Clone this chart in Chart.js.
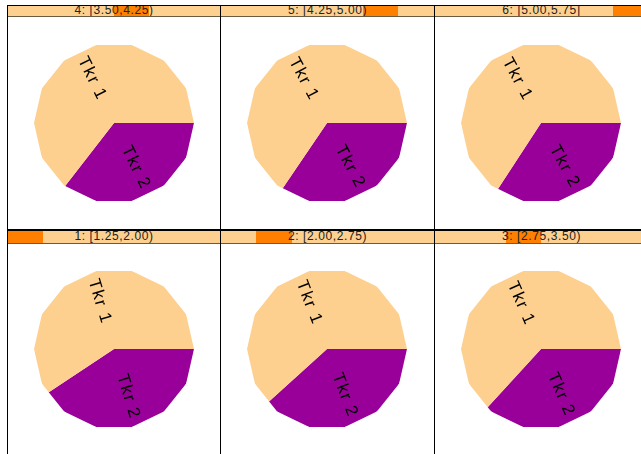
<!DOCTYPE html>
<html>
<head>
<meta charset="utf-8">
<script src="https://cdn.jsdelivr.net/npm/chart.js@4"></script>
<style>
  html,body{margin:0;padding:0;background:#fff;}
  #wrap{position:relative;width:641px;height:454px;overflow:hidden;background:#fff;}
  .frame{position:absolute;box-sizing:border-box;border:1px solid #000;}
  .strip{position:absolute;left:0;right:0;top:0;background:#FED08F;border-bottom:1px solid #6a5a40;overflow:hidden;}
  .shade{position:absolute;top:0;bottom:0;background:#FF8000;}
  .stext{position:absolute;left:0;right:0;text-align:center;font-family:"Liberation Sans",Arial,sans-serif;font-size:12px;color:#222;white-space:nowrap;letter-spacing:0.6px;}
  canvas{position:absolute;}
</style>
</head>
<body>
<div id="wrap"></div>
<script>
// ---- data ----
const categories = ["Tkr 1", "Tkr 2"];
const panelLabels = ["1: [1.25,2.00)", "2: [2.00,2.75)", "3: [2.75,3.50)", "4: [3.50,4.25)", "5: [4.25,5.00)", "6: [5.00,5.75]"];
const shingleLo = [1.25, 2.00, 2.75, 3.50, 4.25, 5.00];
const shingleHi = [2.00, 2.75, 3.50, 4.25, 5.00, 5.75];
const tkr1 = [59.3, 61.7, 63.2, 64.5, 65.5, 65.8];
const tkr2 = [40.7, 38.3, 36.8, 35.5, 34.5, 34.2];
const sliceColors = ["#FED08F", "#990099"];

const rangeLo = Math.min(...shingleLo), rangeHi = Math.max(...shingleHi);
const colX = [7, 220, 434, 648];
const wrap = document.getElementById('wrap');

const polyPlugin = {
  id: 'polyPie',
  beforeDatasetsDraw(chart) {
    const arc = chart.getDatasetMeta(0).data[0];
    if (!arc) return;
    const ctx = chart.ctx, n = 14, r = arc.outerRadius;
    ctx.save();
    ctx.beginPath();
    for (let k = 0; k < n; k++) {
      const a = -k * 2 * Math.PI / n;
      const px = arc.x + r * Math.cos(a), py = arc.y + r * Math.sin(a);
      k ? ctx.lineTo(px, py) : ctx.moveTo(px, py);
    }
    ctx.closePath();
    ctx.clip();
  },
  afterDatasetsDraw(chart) {
    const ctx = chart.ctx;
    ctx.restore();
    const meta = chart.getDatasetMeta(0);
    ctx.save();
    ctx.fillStyle = '#000';
    ctx.font = '17px "Liberation Sans", Arial, sans-serif';
    ctx.letterSpacing = '1.5px';
    ctx.textAlign = 'center';
    ctx.textBaseline = 'middle';
    meta.data.forEach((arc, i) => {
      const mid = (arc.startAngle + arc.endAngle) / 2;
      const d = arc.outerRadius * 0.62;
      const x = arc.x + Math.cos(mid) * d, y = arc.y + Math.sin(mid) * d;
      let rot = mid;
      if (Math.cos(mid) < 0) rot += Math.PI;
      ctx.save();
      ctx.translate(x, y);
      ctx.rotate(rot);
      ctx.fillText(chart.data.labels[i], 0, 0);
      ctx.restore();
    });
    ctx.restore();
  }
};

for (let i = 0; i < 6; i++) {
  const top = i >= 3;
  const col = i % 3;
  const x = colX[col];
  const w = colX[col + 1] - x + 1;
  const stripTop = top ? 5 : 230;
  const stripH = top ? 11 : 13;
  const frameBottom = top ? 230 : 460;

  const frame = document.createElement('div');
  frame.className = 'frame';
  frame.style.left = x + 'px';
  frame.style.top = stripTop + 'px';
  frame.style.width = w + 'px';
  frame.style.height = (frameBottom - stripTop) + 'px';
  wrap.appendChild(frame);

  const strip = document.createElement('div');
  strip.className = 'strip';
  strip.style.height = (stripH - 1) + 'px';
  frame.appendChild(strip);

  const shade = document.createElement('div');
  shade.className = 'shade';
  shade.style.left = ((shingleLo[i] - rangeLo) / (rangeHi - rangeLo) * 100) + '%';
  shade.style.width = ((shingleHi[i] - shingleLo[i]) / (rangeHi - rangeLo) * 100) + '%';
  strip.appendChild(shade);

  const txt = document.createElement('div');
  txt.className = 'stext';
  txt.style.top = (top ? -3 : -2) + 'px';
  txt.textContent = panelLabels[i];
  strip.appendChild(txt);

  const cv = document.createElement('canvas');
  cv.width = 212; cv.height = 212;
  cv.style.left = (x + 1) + 'px';
  cv.style.top = (top ? 17 : 243) + 'px';
  cv.style.width = '212px'; cv.style.height = '212px';
  wrap.appendChild(cv);

  new Chart(cv, {
    type: 'pie',
    data: {
      labels: [categories[1], categories[0]],
      datasets: [{
        data: [tkr2[i], tkr1[i]],
        backgroundColor: [sliceColors[1], sliceColors[0]],
        borderWidth: 0
      }]
    },
    options: {
      responsive: false,
      animation: false,
      rotation: 90,
      radius: 80,
      layout: { padding: 0 },
      plugins: { legend: { display: false }, tooltip: { enabled: false } },
      events: []
    },
    plugins: [polyPlugin]
  });
}
</script>
</body>
</html>
